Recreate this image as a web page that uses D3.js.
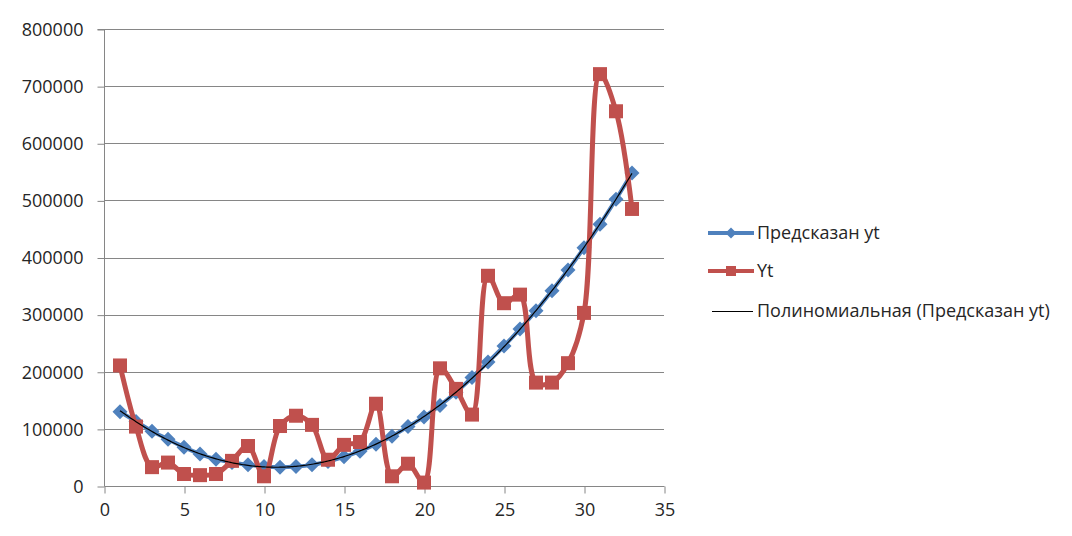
<!DOCTYPE html>
<html>
<head>
<meta charset="utf-8">
<script src="https://cdn.jsdelivr.net/npm/d3@7"></script>
<style>
  html, body { margin: 0; padding: 0; background: #ffffff; }
  svg { display: block; }
  text { font-family: "Open Sans", "Liberation Sans", sans-serif; fill: #262626; }
</style>
</head>
<body>
<svg id="chart" width="1072" height="536"></svg>
<script>
// Period numbers (x values)
const periods = [1, 2, 3, 4, 5, 6, 7, 8, 9, 10, 11, 12, 13, 14, 15, 16, 17,
                 18, 19, 20, 21, 22, 23, 24, 25, 26, 27, 28, 29, 30, 31, 32, 33];

// Predicted values (Предсказан yt)
const predicted = [130000, 113000, 96000, 82000, 68000, 56000, 47000, 41000, 37000, 34000,
                   33000, 34000, 37000, 43000, 51000, 61000, 73000, 87000, 104000, 121000,
                   141000, 164000, 190000, 217000, 245000, 275000, 307000, 342000, 378000,
                   417000, 458000, 502000, 548000];

// Observed values (Yt)
const actual = [211000, 104000, 33000, 41000, 21000, 19000, 21000, 44000, 70000, 17000,
                105000, 123000, 107000, 46000, 72000, 77000, 144000, 17000, 39000, 6000,
                206000, 170000, 125000, 368000, 320000, 335000, 181000, 181000, 215000,
                303000, 721000, 656000, 485000];

// Axis ticks
const xTicks = [0, 5, 10, 15, 20, 25, 30, 35];
const yTicks = [0, 100000, 200000, 300000, 400000, 500000, 600000, 700000, 800000];

// Legend labels
const legendLabels = ["Предсказан yt", "Yt", "Полиномиальная (Предсказан yt)"];

const blue = "#4F81BD", red = "#C0504D", gridColor = "#868686";

const svg = d3.select("#chart");
const plot = { left: 104, right: 664, top: 29, bottom: 486 };

const x = d3.scaleLinear().domain([0, 35]).range([plot.left, plot.right]);
const y = d3.scaleLinear().domain([0, 800000]).range([plot.bottom, plot.top]);

// Horizontal gridlines
svg.append("g")
  .selectAll("line")
  .data(yTicks.filter(d => d > 0))
  .join("line")
  .attr("x1", plot.left).attr("x2", plot.right)
  .attr("y1", d => Math.round(y(d)) + 0.5).attr("y2", d => Math.round(y(d)) + 0.5)
  .attr("stroke", gridColor).attr("stroke-width", 1);

// Axes
const yAxis = d3.axisLeft(y).tickValues(yTicks).tickFormat(d3.format("d")).tickSize(7).tickPadding(14);
const xAxis = d3.axisBottom(x).tickValues(xTicks).tickFormat(d3.format("d")).tickSize(7).tickPadding(10);

const gy = svg.append("g").attr("transform", `translate(${plot.left + 0.5},0.5)`).call(yAxis);
const gx = svg.append("g").attr("transform", `translate(0.5,${plot.bottom + 0.5})`).call(xAxis);

[gx, gy].forEach(g => {
  g.select(".domain").attr("stroke", gridColor);
  g.selectAll(".tick line").attr("stroke", gridColor);
  g.selectAll(".tick text")
    .attr("font-size", 18)
    .attr("fill", "#262626")
    .style("font-family", "'Open Sans', 'Liberation Sans', sans-serif");
});
gy.select(".domain").attr("d", `M-7,${y(800000)}H0V${y(0)}`);
gx.select(".domain").attr("d", `M${x(0)},0H${x(35)}`);

// Smoothed series path
const line = vals => d3.line()
  .x((d, i) => x(periods[i]))
  .y(d => y(d))
  .curve(d3.curveCatmullRom.alpha(0.5))(vals);

const diamond = (cx, cy, r) => `M${cx},${cy - r}L${cx + r},${cy}L${cx},${cy + r}L${cx - r},${cy}Z`;

// Predicted series
svg.append("path")
  .attr("d", line(predicted))
  .attr("fill", "none").attr("stroke", blue).attr("stroke-width", 4)
  .attr("stroke-linejoin", "round");
svg.append("g").selectAll("path")
  .data(predicted)
  .join("path")
  .attr("d", (d, i) => diamond(x(periods[i]), y(d), 7.5))
  .attr("fill", blue);

// Observed series
svg.append("path")
  .attr("d", line(actual))
  .attr("fill", "none").attr("stroke", red).attr("stroke-width", 5)
  .attr("stroke-linejoin", "round");
svg.append("g").selectAll("rect")
  .data(actual)
  .join("rect")
  .attr("x", (d, i) => x(periods[i]) - 7)
  .attr("y", d => y(d) - 7)
  .attr("width", 14).attr("height", 14)
  .attr("fill", red);

// Polynomial (order 2) least-squares trend of the predicted series
function quadFit(xs, ys) {
  const S = [0, 0, 0, 0, 0], T = [0, 0, 0];
  xs.forEach((xv, i) => {
    for (let k = 0; k < 5; k++) S[k] += Math.pow(xv, k);
    for (let k = 0; k < 3; k++) T[k] += ys[i] * Math.pow(xv, k);
  });
  const A = [[S[0], S[1], S[2], T[0]], [S[1], S[2], S[3], T[1]], [S[2], S[3], S[4], T[2]]];
  for (let c = 0; c < 3; c++) {
    for (let r = c + 1; r < 3; r++) {
      const f = A[r][c] / A[c][c];
      for (let k = c; k < 4; k++) A[r][k] -= f * A[c][k];
    }
  }
  const b = [0, 0, 0];
  for (let r = 2; r >= 0; r--) {
    let s = A[r][3];
    for (let k = r + 1; k < 3; k++) s -= A[r][k] * b[k];
    b[r] = s / A[r][r];
  }
  return t => b[0] + b[1] * t + b[2] * t * t;
}
const trend = quadFit(periods, predicted);
const trendX = d3.range(periods[0], periods[periods.length - 1] + 0.001, 0.1);
svg.append("path")
  .attr("d", d3.line().x(t => x(t)).y(t => y(trend(t)))(trendX))
  .attr("fill", "none").attr("stroke", "#000").attr("stroke-width", 1.2);

// Legend
const legend = svg.append("g");
const legendY = [233, 271, 311];
// Predicted
legend.append("line").attr("x1", 708).attr("x2", 754).attr("y1", legendY[0]).attr("y2", legendY[0])
  .attr("stroke", blue).attr("stroke-width", 4);
legend.append("path").attr("d", diamond(731, legendY[0], 5.5)).attr("fill", blue);
// Observed
legend.append("line").attr("x1", 708).attr("x2", 754).attr("y1", legendY[1]).attr("y2", legendY[1])
  .attr("stroke", red).attr("stroke-width", 4);
legend.append("rect").attr("x", 726).attr("y", legendY[1] - 5).attr("width", 10).attr("height", 10).attr("fill", red);
// Trend
legend.append("line").attr("x1", 712).attr("x2", 753).attr("y1", legendY[2] + 0.5).attr("y2", legendY[2] + 0.5)
  .attr("stroke", "#000").attr("stroke-width", 1);

legend.selectAll("text")
  .data(legendLabels)
  .join("text")
  .attr("x", 757)
  .attr("y", (d, i) => legendY[i])
  .attr("dy", "0.35em")
  .attr("font-size", 18)
  .text(d => d);
</script>
</body>
</html>
